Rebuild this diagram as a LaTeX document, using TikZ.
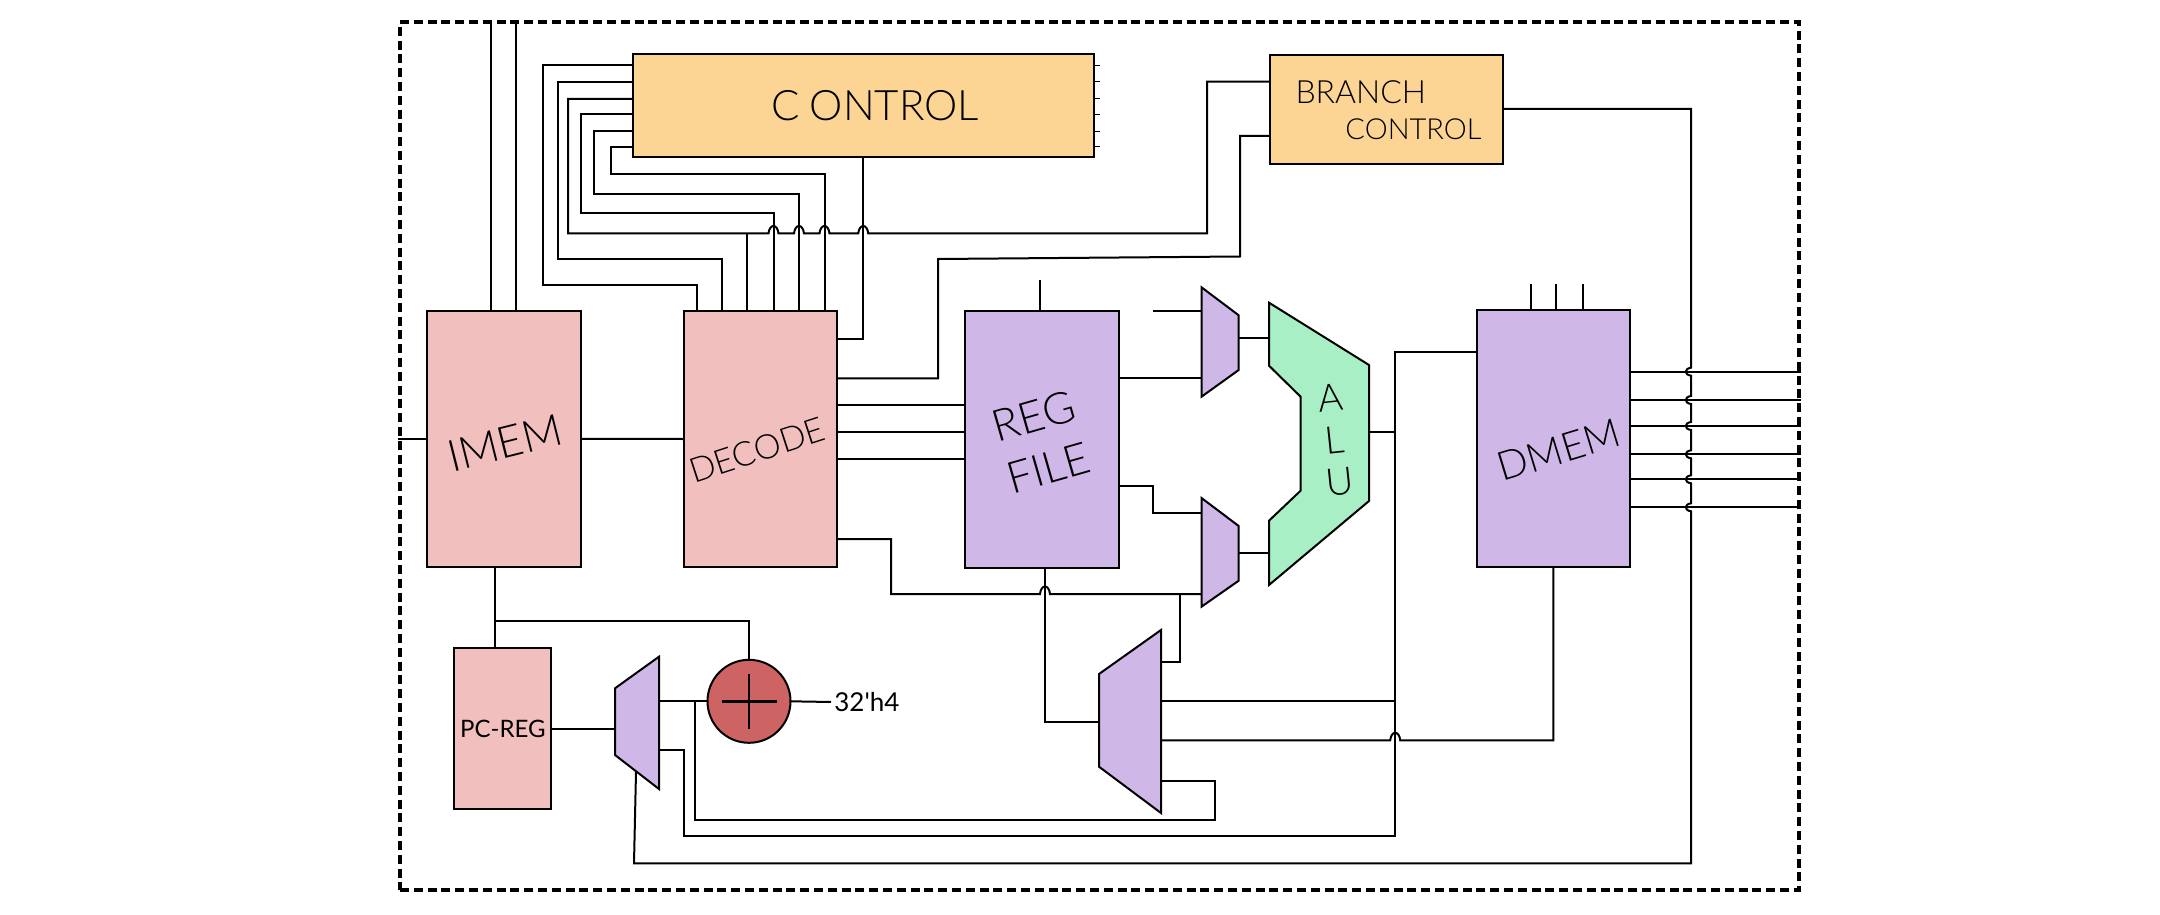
\documentclass[tikz,border=0pt]{standalone}
\usepackage{fontspec}
\setmainfont{Lato}[UprightFont=* Light]
\newfontfamily\handdark{Lato}
\definecolor{pinkfill}{HTML}{F2BFBF}
\definecolor{purplefill}{HTML}{CFB8E8}
\definecolor{greenfill}{HTML}{A9EFC6}
\definecolor{orangefill}{HTML}{FCD595}
\definecolor{redfill}{HTML}{CD6363}
\tikzset{
    wire/.style={line width=1pt, line join=miter},
    block/.style={draw, line width=1pt, inner sep=0pt, outer sep=0pt},
    muxframe/.style={inner sep=0pt, outer sep=0pt},
    muxbody/.style={draw, fill=purplefill, line width=1pt},
    hand/.style={font=\fontsize{#1}{#1}\selectfont, inner sep=0pt},
    hopup/.style={to path={.. controls +(1,-10) and +(-1,-10) .. (\tikztotarget)}},
    hopleft/.style={to path={.. controls +(-7,1) and +(-7,-1) .. (\tikztotarget)}}
}
\begin{document}
\begin{tikzpicture}[x=.5pt, y=-.5pt]
    \useasboundingbox (0,0) rectangle (2160,915);

    % Blocks
    \node [draw, line width=2pt, dash pattern=on 4.5pt off 2.4pt, inner sep=0pt, minimum width=699.5pt, minimum height=434pt] (chip) at (1099.5,456) {};
    \node [block, fill=orangefill, minimum width=230.75pt, minimum height=51.25pt] (ctrl) at (863.25,105.75) {\hspace*{12pt}\fontsize{21}{21}\selectfont C\hspace{5pt}ONTROL};
    \node [block, fill=orangefill, minimum width=116.5pt, minimum height=54.65pt, align=left, font=\fontsize{14.5}{18}\selectfont] (brc) at (1386.5,109.7) {\hspace*{2pt}{\fontsize{16}{16}\selectfont BRANCH}\\\hspace*{27pt}CONTROL};
    \node [block, fill=pinkfill, minimum width=76.8pt, minimum height=128.15pt] (imem) at (503.8,438.9) {};
    \node [block, fill=pinkfill, minimum width=76.75pt, minimum height=128pt] (dec) at (760.25,439) {};
    \node [block, fill=purplefill, minimum width=77pt, minimum height=128.25pt] (regf) at (1041.5,439.25) {};
    \node [block, fill=purplefill, minimum width=76.9pt, minimum height=128.35pt] (dmem) at (1553.4,438.7) {};
    \node [block, fill=pinkfill, minimum width=48.45pt, minimum height=80.2pt, font=\handdark\fontsize{12}{12}\selectfont] (pcr) at (502.85,728.5) {PC-REG};
    \node [block, fill=redfill, circle, minimum size=41.5pt] (add) at (749,701.3) {};

    % Muxes
    \node [muxframe, minimum width=18.6pt, minimum height=54.7pt] (mxa) at (1220.1,342) {};
    \draw [muxbody] (mxa.north west) -- ([yshift=-14pt]mxa.north east) -- ([yshift=13.35pt]mxa.south east) -- (mxa.south west) -- cycle;
    \node [muxframe, minimum width=18.6pt, minimum height=54.35pt] (mxb) at (1220.1,552.35) {};
    \draw [muxbody] (mxb.north west) -- ([yshift=-14pt]mxb.north east) -- ([yshift=13pt]mxb.south east) -- (mxb.south west) -- cycle;
    \node [muxframe, minimum width=31pt, minimum height=91.5pt] (bigm) at (1130,721.5) {};
    \draw [muxbody] (bigm.north east) -- (bigm.south east) -- ([yshift=23.15pt]bigm.south west) -- ([yshift=-22pt]bigm.north west) -- cycle;
    \node [muxframe, minimum width=22pt, minimum height=66.15pt] (pcmux) at (637,722.85) {};
    \draw [muxbody] (pcmux.north east) -- (pcmux.south east) -- ([yshift=17pt]pcmux.south west) -- ([yshift=-15.8pt]pcmux.north west) -- cycle;

    % ALU
    \draw [block, fill=greenfill] (1269,302.7) -- (1369,365) -- (1369,501) -- (1269,585) -- (1269,520.7)
        -- (1300.6,490.7) -- (1300.6,396.7) -- (1269,365.7) -- cycle;
    \coordinate (alua) at (1269,337.7);
    \coordinate (alub) at (1269,553.3);
    \coordinate (aluout) at (1369,432);
    \coordinate (pcsel) at (636,772);

    % Labels
    \node [hand=22, rotate=14] (imemtext) at (505,443) {IMEM};
    \node [hand=17, rotate=18] (dectext) at (757,450) {DECODE};
    \node [hand=22, rotate=16, align=center] (regtext) at (1041,442) {REG\\[5pt]FILE};
    \node [hand=20, rotate=17] (dmemtext) at (1559,450) {DMEM};
    \node [hand=19, rotate=6, align=center] (alutext) at (1335,440) {A\\[2pt]L\\[2pt]U};
    \node [hand=13, anchor=west, inner sep=1.5pt] (hfour) at (831,702) {\handdark 32'h4};

    % Adder
    \draw [line width=1.2pt] (add.center) ++(-27.5,0) -- ++(55,0) (add.center) ++(0,-27.5) -- ++(0,55);
    \draw [wire] (add.east) -- (hfour.west);

    % Control wires
    \foreach \ya/\xa/\yb/\xb in {65/542.5/285/697, 82/557.7/259/722, 114/581/213/773.5, 131/593.5/194/799, 147/611/174/824.5}
        \draw [wire] (ctrl.west |- 0,\ya) -| (\xa,\yb) -| (\xb,0 |- dec.north);
    \foreach \y in {66,82,99,115,132,147}
        \draw [line width=.5pt] (ctrl.east |- 0,\y) -- ++(6,0);
    \draw [wire] (ctrl.west |- 0,99) -| (568,233.5) -- (768.5,233.5) to[hopup] (778.5,233.5) -- (794,233.5) to[hopup] (804,233.5)
        -- (819.5,233.5) to[hopup] (829.5,233.5) -- (858.25,233.5) to[hopup] (868.25,233.5) -- (1207,233.5) |- (brc.west |- 0,81.7);
    \draw [wire] (747,233.5) -- (747,0 |- dec.north);
    \draw [wire] (ctrl.south) |- (dec.east |- 0,339);
    \draw [wire] (dec.east |- 0,378.3) -| (938,259) -- (1240,256.5) |- (brc.west |- 0,136);

    % Fetch and decode
    \foreach \x in {490.6,516.4}
        \draw [wire] (imem.north -| \x,0) -- (chip.north -| \x,0);
    \draw [wire] (chip.west |- imem.west) -- (imem.west);
    \draw [wire] (imem.east) -- (dec.west);
    \foreach \y in {404.7,432,459.3}
        \draw [wire] (dec.east |- 0,\y) -- (regf.west |- 0,\y);
    \draw [wire] (dec.east |- 0,539) -| (891,594) -- (1040,594) to[hopup] (1050,594) -- (mxb.west |- 0,594);
    \draw [wire] (regf.north -| 1040,0) -- ++(0,-31);

    % Execute
    \draw [wire] (1045,0 |- regf.south) |- (bigm.west);
    \draw [wire] (1180.4,594) |- (bigm.east |- 0,662.3);
    \draw [wire] (1152.8,311.3) -- (mxa.west |- 0,311.3);
    \draw [wire] (regf.east |- 0,378.3) -- (mxa.west |- 0,378.3);
    \draw [wire] (regf.east |- 0,486) -| (1152.8,512.7) -- (mxb.west |- 0,512.7);
    \draw [wire] (mxa.east |- alua) -- (alua);
    \draw [wire] (mxb.east |- alub) -- (alub);
    \draw [wire] (aluout) -- (1395.2,432);

    % Memory and write back
    \draw [wire] (dmem.west |- 0,351.7) -| (1395.2,836) -- (683.5,836) |- (pcmux.east |- 0,749.7);
    \draw [wire] (bigm.east |- 0,701) -- (1395.2,701);
    \draw [wire] (bigm.east |- 0,740.3) -- (1390.2,740.3) to[hopup] (1400.2,740.3) -| (dmem.south);
    \draw [wire] (bigm.east |- 0,781.3) -| (1215,820) -- (695.4,820) -- (695.4,0 |- add.west);
    \foreach \x in {1530.7,1556.4,1583}
        \draw [wire] (dmem.north -| \x,0) -- ++(0,-26);
    \foreach \y in {371.7,400,426,454.3,479.3,507.3}
        \draw [wire] (dmem.east |- 0,\y) -- (chip.east |- 0,\y);
    \draw [wire] (brc.east |- 0,109) -| (1691,367.7) to[hopleft] (1691,375.7) -- (1691,396) to[hopleft] (1691,404)
        -- (1691,422) to[hopleft] (1691,430) -- (1691,450.3) to[hopleft] (1691,458.3) -- (1691,475.3) to[hopleft] (1691,483.3)
        -- (1691,503.3) to[hopleft] (1691,511.3) -- (1691,863.3) -- (634,863.3) -- (pcsel);

    % PC
    \draw [wire] (imem.south -| 494.8,0) -- (pcr.north -| 494.8,0);
    \draw [wire] (494.8,620.7) -| (add.north);
    \draw [wire] (pcr.east) -- (pcmux.west |- pcr.east);
    \draw [wire] (pcmux.east |- add.west) -- (add.west);
\end{tikzpicture}
\end{document}
